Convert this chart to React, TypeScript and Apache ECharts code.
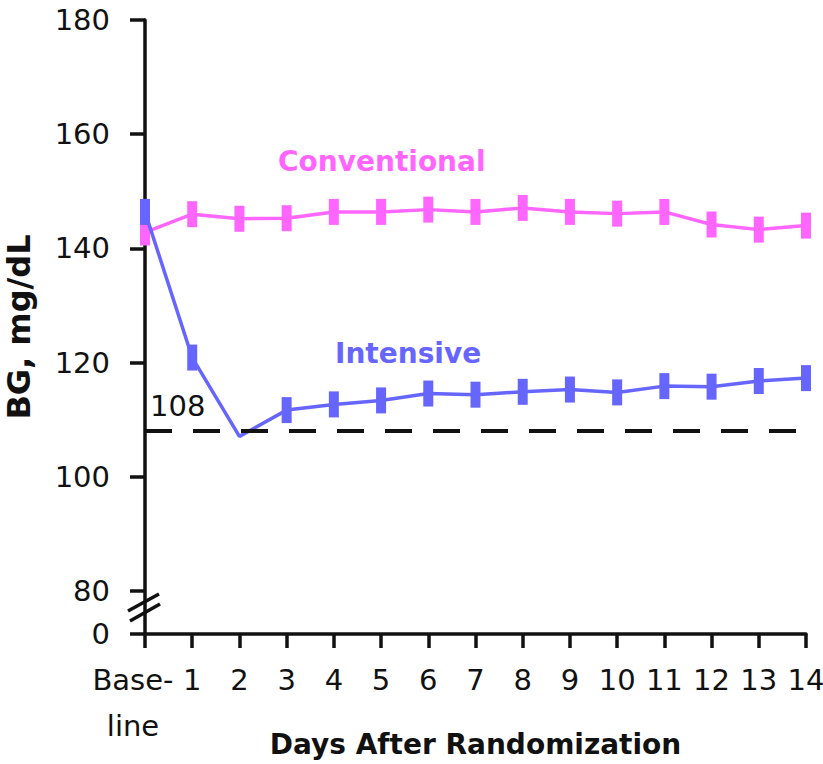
import React, { useEffect, useRef } from "react";
import * as echarts from "echarts";

const days = ["Base-\nline", "1", "2", "3", "4", "5", "6", "7", "8", "9", "10", "11", "12", "13", "14"];
const conventional = [142.8, 146.0, 145.2, 145.3, 146.4, 146.4, 146.8, 146.4, 147.1, 146.4, 146.1, 146.4, 144.2, 143.3, 144.0];
const intensive = [146.4, 120.9, 107.1, 111.7, 112.7, 113.4, 114.6, 114.4, 114.9, 115.3, 114.8, 115.9, 115.8, 116.8, 117.3];
const noMarkerIntensive = [2];
const yTicks = [72.5, 80, 100, 120, 140, 160, 180];
const targetBG = 108;

const PINK = "#ff66ff";
const BLUE = "#6666ff";
const FONT = "DejaVu Sans";

export default function App() {
  const ref = useRef<HTMLDivElement>(null);
  useEffect(() => {
    if (!ref.current) return;
    const chart = echarts.init(ref.current, null, { renderer: "svg" });
    chart.setOption({
      animation: false,
      backgroundColor: "#ffffff",
      grid: { left: 145, right: 17, top: 20, bottom: 130, containLabel: false, outerBoundsMode: "none" },
      xAxis: {
        type: "category",
        data: days,
        boundaryGap: false,
        name: "Days After Randomization",
        nameLocation: "middle",
        nameGap: 96,
        nameMoveOverlap: false,
        nameTextStyle: { fontFamily: FONT, fontWeight: "bold", fontSize: 28, color: "#111" },
        axisLine: { lineStyle: { color: "#111", width: 3.5 } },
        axisTick: { length: 14, lineStyle: { color: "#111", width: 3.5 }, alignWithLabel: true },
        axisLabel: {
          interval: 0,
          margin: 23,
          fontFamily: FONT,
          fontSize: 29,
          color: "#111",
          lineHeight: 46,
          hideOverlap: false,
          formatter: (v: string, i: number) => (i === 0 ? "{base|" + v + "}" : v),
          rich: {
            base: { fontFamily: FONT, fontSize: 29, color: "#111", lineHeight: 46, padding: [0, 24, 0, 0] },
          },
        },
        splitLine: { show: false },
      },
      yAxis: {
        type: "value",
        min: 72.5,
        max: 180,
        name: "BG, mg/dL",
        nameLocation: "middle",
        nameGap: 110,
        nameMoveOverlap: false,
        nameRotate: 90,
        nameTextStyle: { fontFamily: FONT, fontWeight: "bold", fontSize: 32, color: "#111" },
        axisLine: { show: true, lineStyle: { color: "#111", width: 3.5 } },
        axisTick: { show: true, length: 15, lineStyle: { color: "#111", width: 3.5 }, customValues: yTicks },
        axisLabel: {
          customValues: yTicks,
          margin: 35,
          fontFamily: FONT,
          fontSize: 29,
          color: "#111",
          formatter: (v: number) => (v < 75 ? "0" : String(v)),
        },
        splitLine: { show: false },
      },
      series: [
        {
          name: "Conventional",
          type: "line",
          data: conventional,
          clip: false,
          symbol: "rect",
          symbolSize: [10, 26],
          itemStyle: { color: PINK },
          lineStyle: { color: PINK, width: 3.5 },
          z: 3,
          markLine: {
            silent: true,
            symbol: ["none", "none"],
            data: [{ yAxis: targetBG }],
            lineStyle: { color: "#111", width: 4, type: [27, 21] },
            label: {
              show: true,
              position: "insideStartTop",
              formatter: String(targetBG),
              fontFamily: FONT,
              fontSize: 29,
              color: "#111",
              distance: [5, 11],
            },
          },
        },
        {
          name: "Intensive",
          type: "line",
          clip: false,
          data: intensive.map((v, i) => (noMarkerIntensive.includes(i) ? { value: v, symbolSize: 0 } : v)),
          symbol: "rect",
          symbolSize: [10, 26],
          itemStyle: { color: BLUE },
          lineStyle: { color: BLUE, width: 3.5 },
          z: 4,
        },
      ],
      graphic: [
        {
          type: "text",
          left: 278,
          top: 147,
          style: { text: "Conventional", fill: PINK, font: `bold 28px "${FONT}"` },
        },
        {
          type: "text",
          left: 335,
          top: 339,
          style: { text: "Intensive", fill: BLUE, font: `bold 28px "${FONT}"` },
        },
        {
          type: "line",
          shape: { x1: 128, y1: 611, x2: 159, y2: 594 },
          style: { stroke: "#111", lineWidth: 3.5 },
        },
        {
          type: "line",
          shape: { x1: 130, y1: 621, x2: 160, y2: 604 },
          style: { stroke: "#111", lineWidth: 3.5 },
        },
      ],
    });
    return () => chart.dispose();
  }, []);
  return <div ref={ref} style={{ position: "fixed", left: 0, top: 0, width: 823, height: 764 }} />;
}
